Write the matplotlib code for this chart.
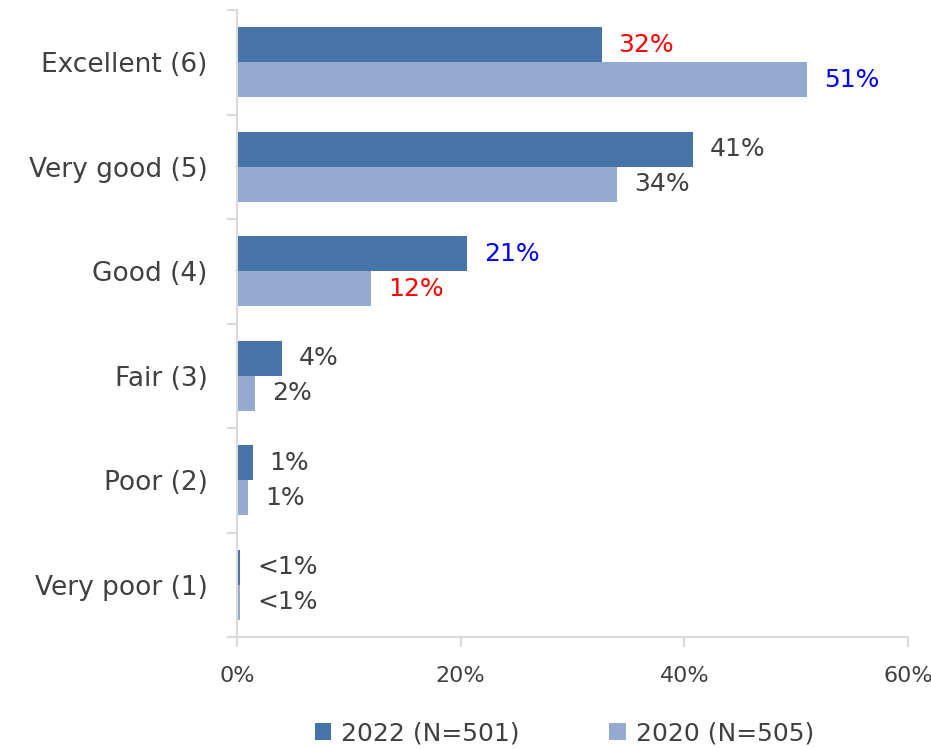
import numpy as np
import matplotlib.pyplot as plt

# == data ==
categories = ['Excellent (6)', 'Very good (5)', 'Good (4)', 'Fair (3)', 'Poor (2)', 'Very poor (1)']
vals_2022 = [32.6, 40.8, 20.6, 4.0, 1.4, 0.3]
vals_2020 = [51.0, 34.0, 12.0, 1.6, 1.0, 0.3]
labels_2022 = ['32%', '41%', '21%', '4%', '1%', '<1%']
labels_2020 = ['51%', '34%', '12%', '2%', '1%', '<1%']
colors_2022 = ['red', '#404040', 'blue', '#404040', '#404040', '#404040']
colors_2020 = ['blue', '#404040', 'red', '#404040', '#404040', '#404040']
series_names = ['2022 (N=501)', '2020 (N=505)']
xticks = [0, 20, 40, 60]

c_dark = '#4674a8'
c_light = '#95aad0'
c_text = '#404040'
c_axis = '#d9d9d9'

plt.rcParams['font.family'] = ['DejaVu Sans']

fig = plt.figure(figsize=(9.31, 7.49), dpi=100)
ax = fig.add_axes([237 / 931, 1 - 637 / 749, (908 - 237) / 931, (637 - 10) / 749])

n = len(categories)
y = np.arange(n)
h = 1 / 3
ax.barh(y - h / 2, vals_2022, height=h, color=c_dark, label=series_names[0])
ax.barh(y + h / 2, vals_2020, height=h, color=c_light, label=series_names[1])

for i in range(n):
    ax.text(vals_2022[i] + 1.5, y[i] - h / 2, labels_2022[i], color=colors_2022[i],
            fontsize=18, va='center', ha='left')
    ax.text(vals_2020[i] + 1.5, y[i] + h / 2, labels_2020[i], color=colors_2020[i],
            fontsize=18, va='center', ha='left')

ax.set_ylim(n - 0.5, -0.5)
ax.set_xlim(0, 60)
ax.set_yticks(y)
ax.set_yticklabels(categories, fontsize=19, color=c_text)
ax.set_yticks(np.arange(-0.5, n, 1), minor=True)
ax.tick_params(axis='y', which='major', length=0, pad=21)
ax.tick_params(axis='y', which='minor', length=7, color=c_axis, width=1.5)
ax.set_xticks(xticks)
ax.set_xticklabels([f'{t}%' for t in xticks], fontsize=16, color=c_text)
ax.tick_params(axis='x', length=7, color=c_axis, width=1.5, pad=14)

for s in ['top', 'right']:
    ax.spines[s].set_visible(False)
for s in ['left', 'bottom']:
    ax.spines[s].set_color(c_axis)
    ax.spines[s].set_linewidth(1.5)

leg = fig.legend(loc='lower center', ncol=2, frameon=False, fontsize=18,
                 bbox_to_anchor=(0.606, -0.025), handlelength=0.65, handleheight=0.65,
                 handletextpad=0.4, columnspacing=3.6)
for t in leg.get_texts():
    t.set_color(c_text)

plt.savefig('out.png', dpi=100)
